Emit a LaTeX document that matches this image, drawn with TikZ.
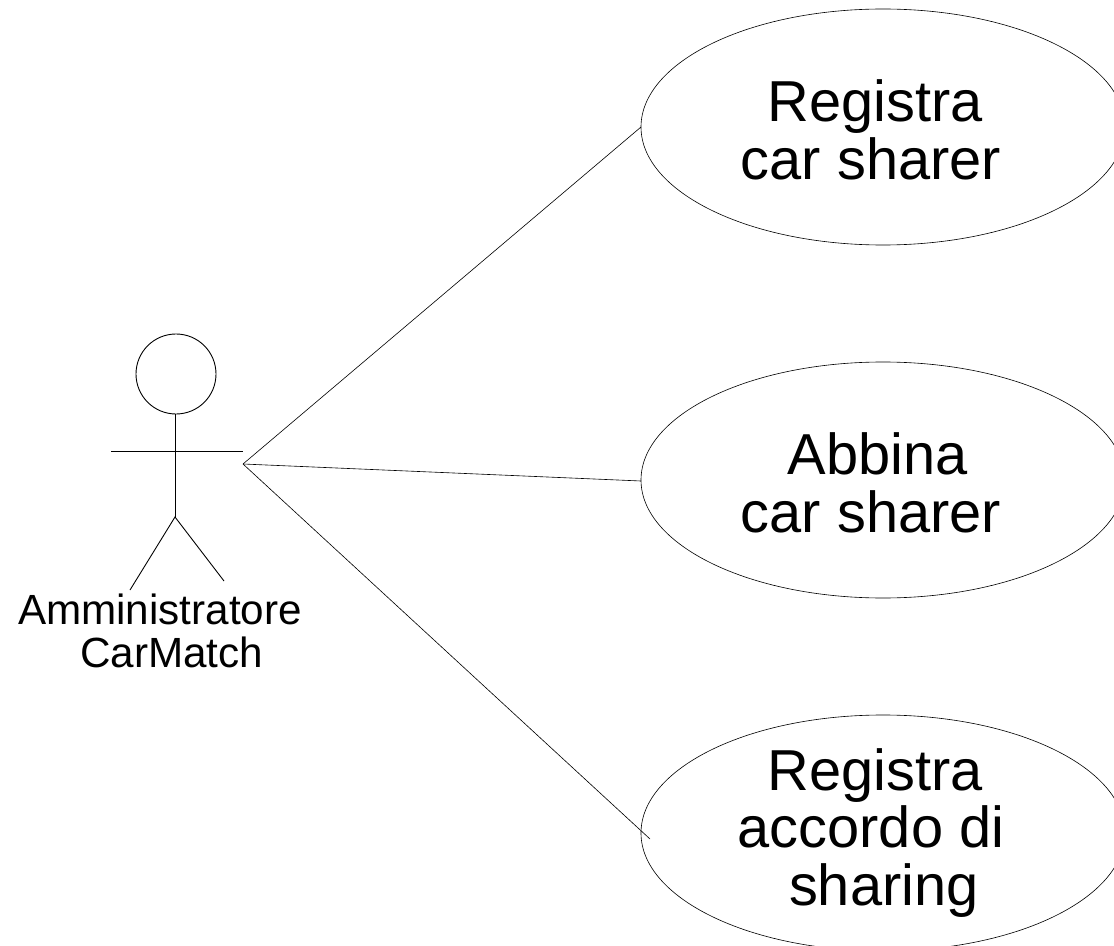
\documentclass[tikz,border=0pt]{standalone}
\usepackage{fontspec}
\setmainfont{Liberation Sans}
\usetikzlibrary{shapes.geometric}
\tikzset{
 line/.style={draw=black,line width=0.55pt},
 actorline/.style={draw=black,line width=0.8pt},
 usecase/.style={ellipse,draw=black,line width=0.55pt,minimum width=0.9*484pt,minimum height=0.9*236pt,inner sep=0pt},
 uctext/.style={inner sep=0pt,align=center,font=\fontsize{52}{52}\selectfont},
 lbl/.style={inner sep=0pt,align=center,font=\fontsize{38}{38.5}\selectfont}
}
\begin{document}
\begin{tikzpicture}[x=0.9pt,y=-0.9pt]
\useasboundingbox[fill=white] (0,0) rectangle (1114,946);
\node[usecase] (a) at (883,127) {};
\node[usecase] (b) at (883,480) {};
\node[usecase] (c) at (883,833) {};
\node[uctext] (ta) at (871,130) {\hspace*{8pt}Registra\\car sharer};
\node[uctext] (tb) at (871,483) {\hspace*{12pt}Abbina\\car sharer};
\node[uctext] (tc) at (871,833) {\hspace*{8pt}Registra\\accordo di\\\hspace*{23pt}sharing};
\node[actorline,circle,minimum size=72pt,inner sep=0pt] (head) at (176,374) {};
\coordinate (neck) at (175,517);
\coordinate (neckTop) at (175,414);
\coordinate (armL) at (111,451);
\coordinate (armR) at (243,451);
\coordinate (footL) at (130,590);
\coordinate (footR) at (224,581);
\coordinate (hand) at (243,464);
\coordinate (ca) at (641,127);
\coordinate (cb) at (641,481);
\coordinate (cc) at (650,839);
\draw[actorline] (neckTop) -- (neck);
\draw[actorline] (armL) -- (armR);
\draw[actorline] (footL) -- (neck) -- (footR);
\draw[line] (hand) -- (ca);
\draw[line] (hand) -- (cb);
\draw[line] (hand) -- (cc);
\node[lbl] (act) at (160,631) {Amministratore\\\ \ CarMatch};
\end{tikzpicture}
\end{document}
